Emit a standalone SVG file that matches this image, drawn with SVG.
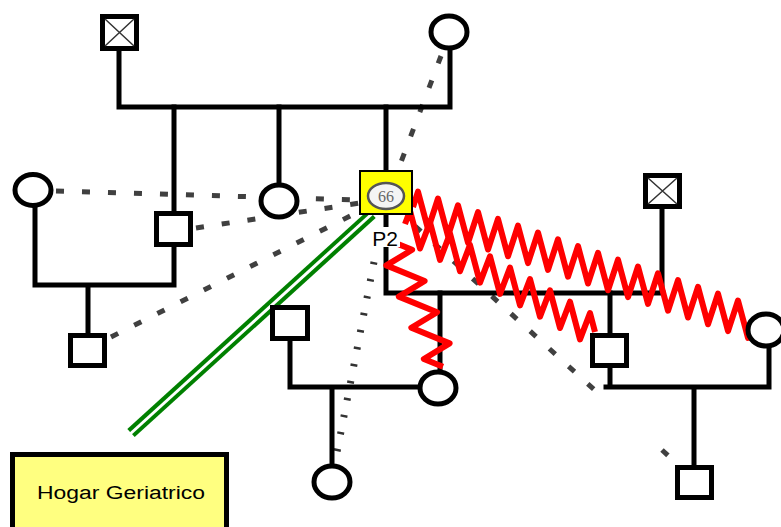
<svg xmlns="http://www.w3.org/2000/svg" width="781" height="527" viewBox="0 0 781 527">
<style>
.ln{stroke:#000;stroke-width:5;fill:none;stroke-linecap:square}
.dash{stroke:#404040;stroke-width:5;fill:none;stroke-dasharray:8 18}
.zz{stroke:#ff0000;stroke-width:6;fill:none;stroke-linejoin:round}
.sq{fill:#fff;stroke:#000;stroke-width:5}
.ci{fill:#fff;stroke:#000;stroke-width:5}
.x{stroke:#333;stroke-width:1.5}
</style>
<rect width="781" height="527" fill="#fff"/>
<g id="connectors">
  <path class="dash" d="M56,191 L360,200"/>
  <path class="dash" d="M196,228 L360,203"/>
  <path class="dash" d="M111,337 L360,211"/>
  <path class="dash" d="M441,56 L398,170"/>
  <path class="dash" d="M415,226 L600,395"/>
  <path class="dash" d="M662,450 L676,463"/>
  <path d="M374,262 L337,452" stroke="#333" stroke-width="7" fill="none" stroke-dasharray="2.5 14.8"/>
  <path d="M372,214 L131,433" stroke="#008000" stroke-width="11" fill="none"/>
  <path d="M374,212 L129,435" stroke="#fff" stroke-width="3" fill="none"/>
  <path class="ln" d="M119,51 V107 H450 V50"/>
  <path class="ln" d="M174,107 V212 M174,247 V285 H35 V207 M88,285 V333"/>
  <path class="ln" d="M279,107 V183"/>
  <path class="ln" d="M386,107 V170"/>
  <path class="ln" d="M386,215 V293 H663 M662,209 V293"/>
  <path class="ln" d="M440,293 V370"/>
  <path class="ln" d="M610,293 V333 M610,368 V387 M606,387 H769 V348 M694,387 V465"/>
  <path class="ln" d="M290,341 V387 H420 M332,387 V463"/>
  <path class="zz" d="M413,207 l5,-15.3 10,37.4 10,-30.6 10,37.4 10,-30.6 10,37.4 10,-30.6 10,37.4 10,-30.6 10,37.4 10,-30.6 10,37.4 10,-30.6 10,37.4 10,-30.6 10,37.4 10,-30.6 10,37.4 10,-30.6 10,37.4 10,-30.6 10,37.4 10,-30.6 10,37.4 10,-30.6 10,37.4 10,-30.6 10,37.4 10,-30.6 10,37.4 10,-30.6 10,37.4 10,-30.6 10,37.4 5,-15.3"/>
  <path class="zz" d="M405,224 l5,-13.16 10,37.68 10,-26.32 10,37.68 10,-26.32 10,37.68 10,-26.32 10,37.68 10,-26.32 10,37.68 10,-26.32 10,37.68 10,-26.32 10,37.68 10,-26.32 10,37.68 10,-26.32 10,37.68 10,-26.32 5,18.84"/>
  <path class="zz" d="M393,242 l19.1,7.8 -25.75,15.6 38.25,15.6 -25.75,15.6 38.25,15.6 -25.75,15.6 38.25,15.6 -25.75,15.6 19.1,7.8"/>
</g>
<g id="n_gf">
  <rect class="sq" x="102.5" y="16.5" width="34" height="32"/>
  <path class="x" d="M105,19 L134,46 M134,19 L105,46"/>
</g>
<g id="n_gm"><ellipse class="ci" cx="449" cy="32" rx="18" ry="16"/></g>
<g id="n_left_w"><ellipse class="ci" cx="33" cy="190" rx="18" ry="15.5"/></g>
<g id="n_uncle"><rect class="sq" x="156.5" y="213.5" width="34" height="31"/></g>
<g id="n_cousin"><rect class="sq" x="70.5" y="335.5" width="34" height="30"/></g>
<g id="n_aunt"><ellipse class="ci" cx="279" cy="201" rx="18" ry="16"/></g>
<g id="n_p2">
  <rect x="360" y="171" width="52" height="43" fill="#ffff00" stroke="#000" stroke-width="2"/>
  <ellipse cx="386" cy="196" rx="18" ry="13" fill="#f4f4f4" stroke="#555" stroke-width="2.5"/>
  <text x="386" y="202" font-family="Liberation Serif, serif" font-size="16" fill="#666" text-anchor="middle">66</text>
</g>
<g id="n_p2label">
  <rect x="371" y="227" width="29" height="20" fill="#fff"/>
  <text x="385" y="246" font-family="Liberation Sans, Arial, sans-serif" font-size="21" fill="#000" text-anchor="middle">P2</text>
</g>
<g id="n_spouse_f">
  <rect class="sq" x="645.5" y="175.5" width="34" height="31"/>
  <path class="x" d="M648,178 L677,204 M677,178 L648,204"/>
</g>
<g id="n_daughter"><ellipse class="ci" cx="438" cy="388" rx="18" ry="16"/></g>
<g id="n_son"><rect class="sq" x="592.5" y="335.5" width="34" height="30"/></g>
<g id="n_son_w"><ellipse class="ci" cx="766" cy="330" rx="18" ry="16"/></g>
<g id="n_grandson"><rect class="sq" x="677.5" y="467.5" width="34" height="30"/></g>
<g id="n_dil_m"><rect class="sq" x="272.5" y="307.5" width="35" height="31"/></g>
<g id="n_granddaughter"><ellipse class="ci" cx="332" cy="482" rx="18" ry="16"/></g>
<g id="n_hogar">
  <rect x="12.5" y="454.5" width="214" height="80" fill="#ffff80" stroke="#000" stroke-width="5"/>
  <text x="121" y="499" font-family="Liberation Sans, Arial, sans-serif" font-size="18" fill="#000" text-anchor="middle" textLength="168" lengthAdjust="spacingAndGlyphs">Hogar Geriatrico</text>
</g>
</svg>
